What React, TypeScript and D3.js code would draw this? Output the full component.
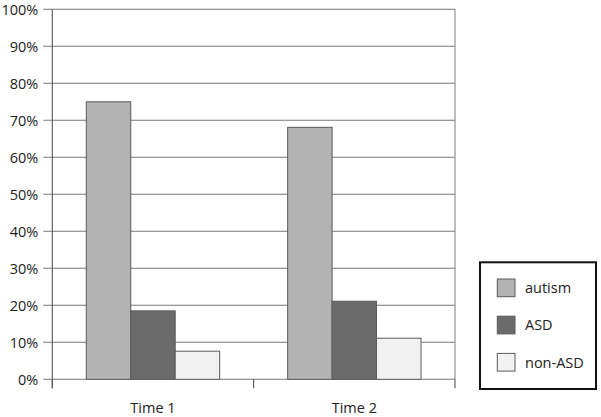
import React from "react";
import * as d3 from "d3";

const categories = ["Time 1", "Time 2"];
const seriesNames = ["autism", "ASD", "non-ASD"];
const autism = [0.75, 0.681];
const asd = [0.185, 0.211];
const nonAsd = [0.076, 0.111];
const seriesColors = ["#b3b3b3", "#6b6b6b", "#f2f2f2"];
const yTicks = [0, 0.1, 0.2, 0.3, 0.4, 0.5, 0.6, 0.7, 0.8, 0.9, 1.0];

const W = 601;
const H = 417;
const M = { left: 52.3, right: 455, top: 9.3, bottom: 379.3 };
const FONT = "'Open Sans', 'DejaVu Sans', sans-serif";
const FS = 14.5;

export default function App() {
  const series = [autism, asd, nonAsd];
  const x = d3.scaleBand<string>().domain(categories).range([M.left, M.right]).paddingInner(0).paddingOuter(0);
  const y = d3.scaleLinear().domain([0, 1]).range([M.bottom, M.top]);
  const bw = x.bandwidth();
  const barW = bw / (3 + 1.53);
  const groupOffset = (bw - 3 * barW) / 2;
  const fmt = d3.format(".0%");
  const boundaries = [M.left, ...categories.map((c) => (x(c) as number) + bw)];

  return (
    <svg width={W} height={H} style={{ position: "absolute", left: 0, top: 0, background: "#fff" }}>
      {yTicks.map((t) => (
        <line key={"g" + t} x1={M.left - 9} x2={M.right} y1={y(t)} y2={y(t)} stroke="#777" strokeWidth={1.1} />
      ))}
      <line x1={M.right} x2={M.right} y1={M.top} y2={M.bottom} stroke="#888" strokeWidth={1.1} />
      {series.map((vals, si) =>
        vals.map((v, ci) => {
          const bx = (x(categories[ci]) as number) + groupOffset + si * barW;
          return (
            <rect
              key={si + "-" + ci}
              x={bx}
              y={y(v)}
              width={barW}
              height={y(0) - y(v)}
              fill={seriesColors[si]}
              stroke="#5a5a5a"
              strokeWidth={1}
            />
          );
        })
      )}
      <line x1={M.left} x2={M.left} y1={M.top} y2={M.bottom + 9} stroke="#555" strokeWidth={1.1} />
      {boundaries.map((b, i) => (
        <line key={"b" + i} x1={b} x2={b} y1={M.bottom} y2={M.bottom + 9} stroke="#555" strokeWidth={1.1} />
      ))}
      {yTicks.map((t) => (
        <text key={"l" + t} x={38.3} y={y(t)} dy="0.36em" textAnchor="end" fontFamily={FONT} fontSize={FS} fill="#222">
          {fmt(t)}
        </text>
      ))}
      {categories.map((c) => (
        <text key={c} x={(x(c) as number) + bw / 2} y={412.5} textAnchor="middle" fontFamily={FONT} fontSize={FS} fill="#222">
          {c}
        </text>
      ))}
      <rect x={480} y={262.3} width={116} height={126.7} fill="#fff" stroke="#111" strokeWidth={2} />
      {seriesNames.map((n, i) => {
        const sy = 279 + i * 37.2;
        return (
          <g key={n}>
            <rect x={497.3} y={sy} width={17.7} height={17.7} fill={seriesColors[i]} stroke="#5a5a5a" strokeWidth={1} />
            <text x={525} y={sy + 8.9} dy="0.36em" fontFamily={FONT} fontSize={FS} fill="#222">
              {n}
            </text>
          </g>
        );
      })}
    </svg>
  );
}
